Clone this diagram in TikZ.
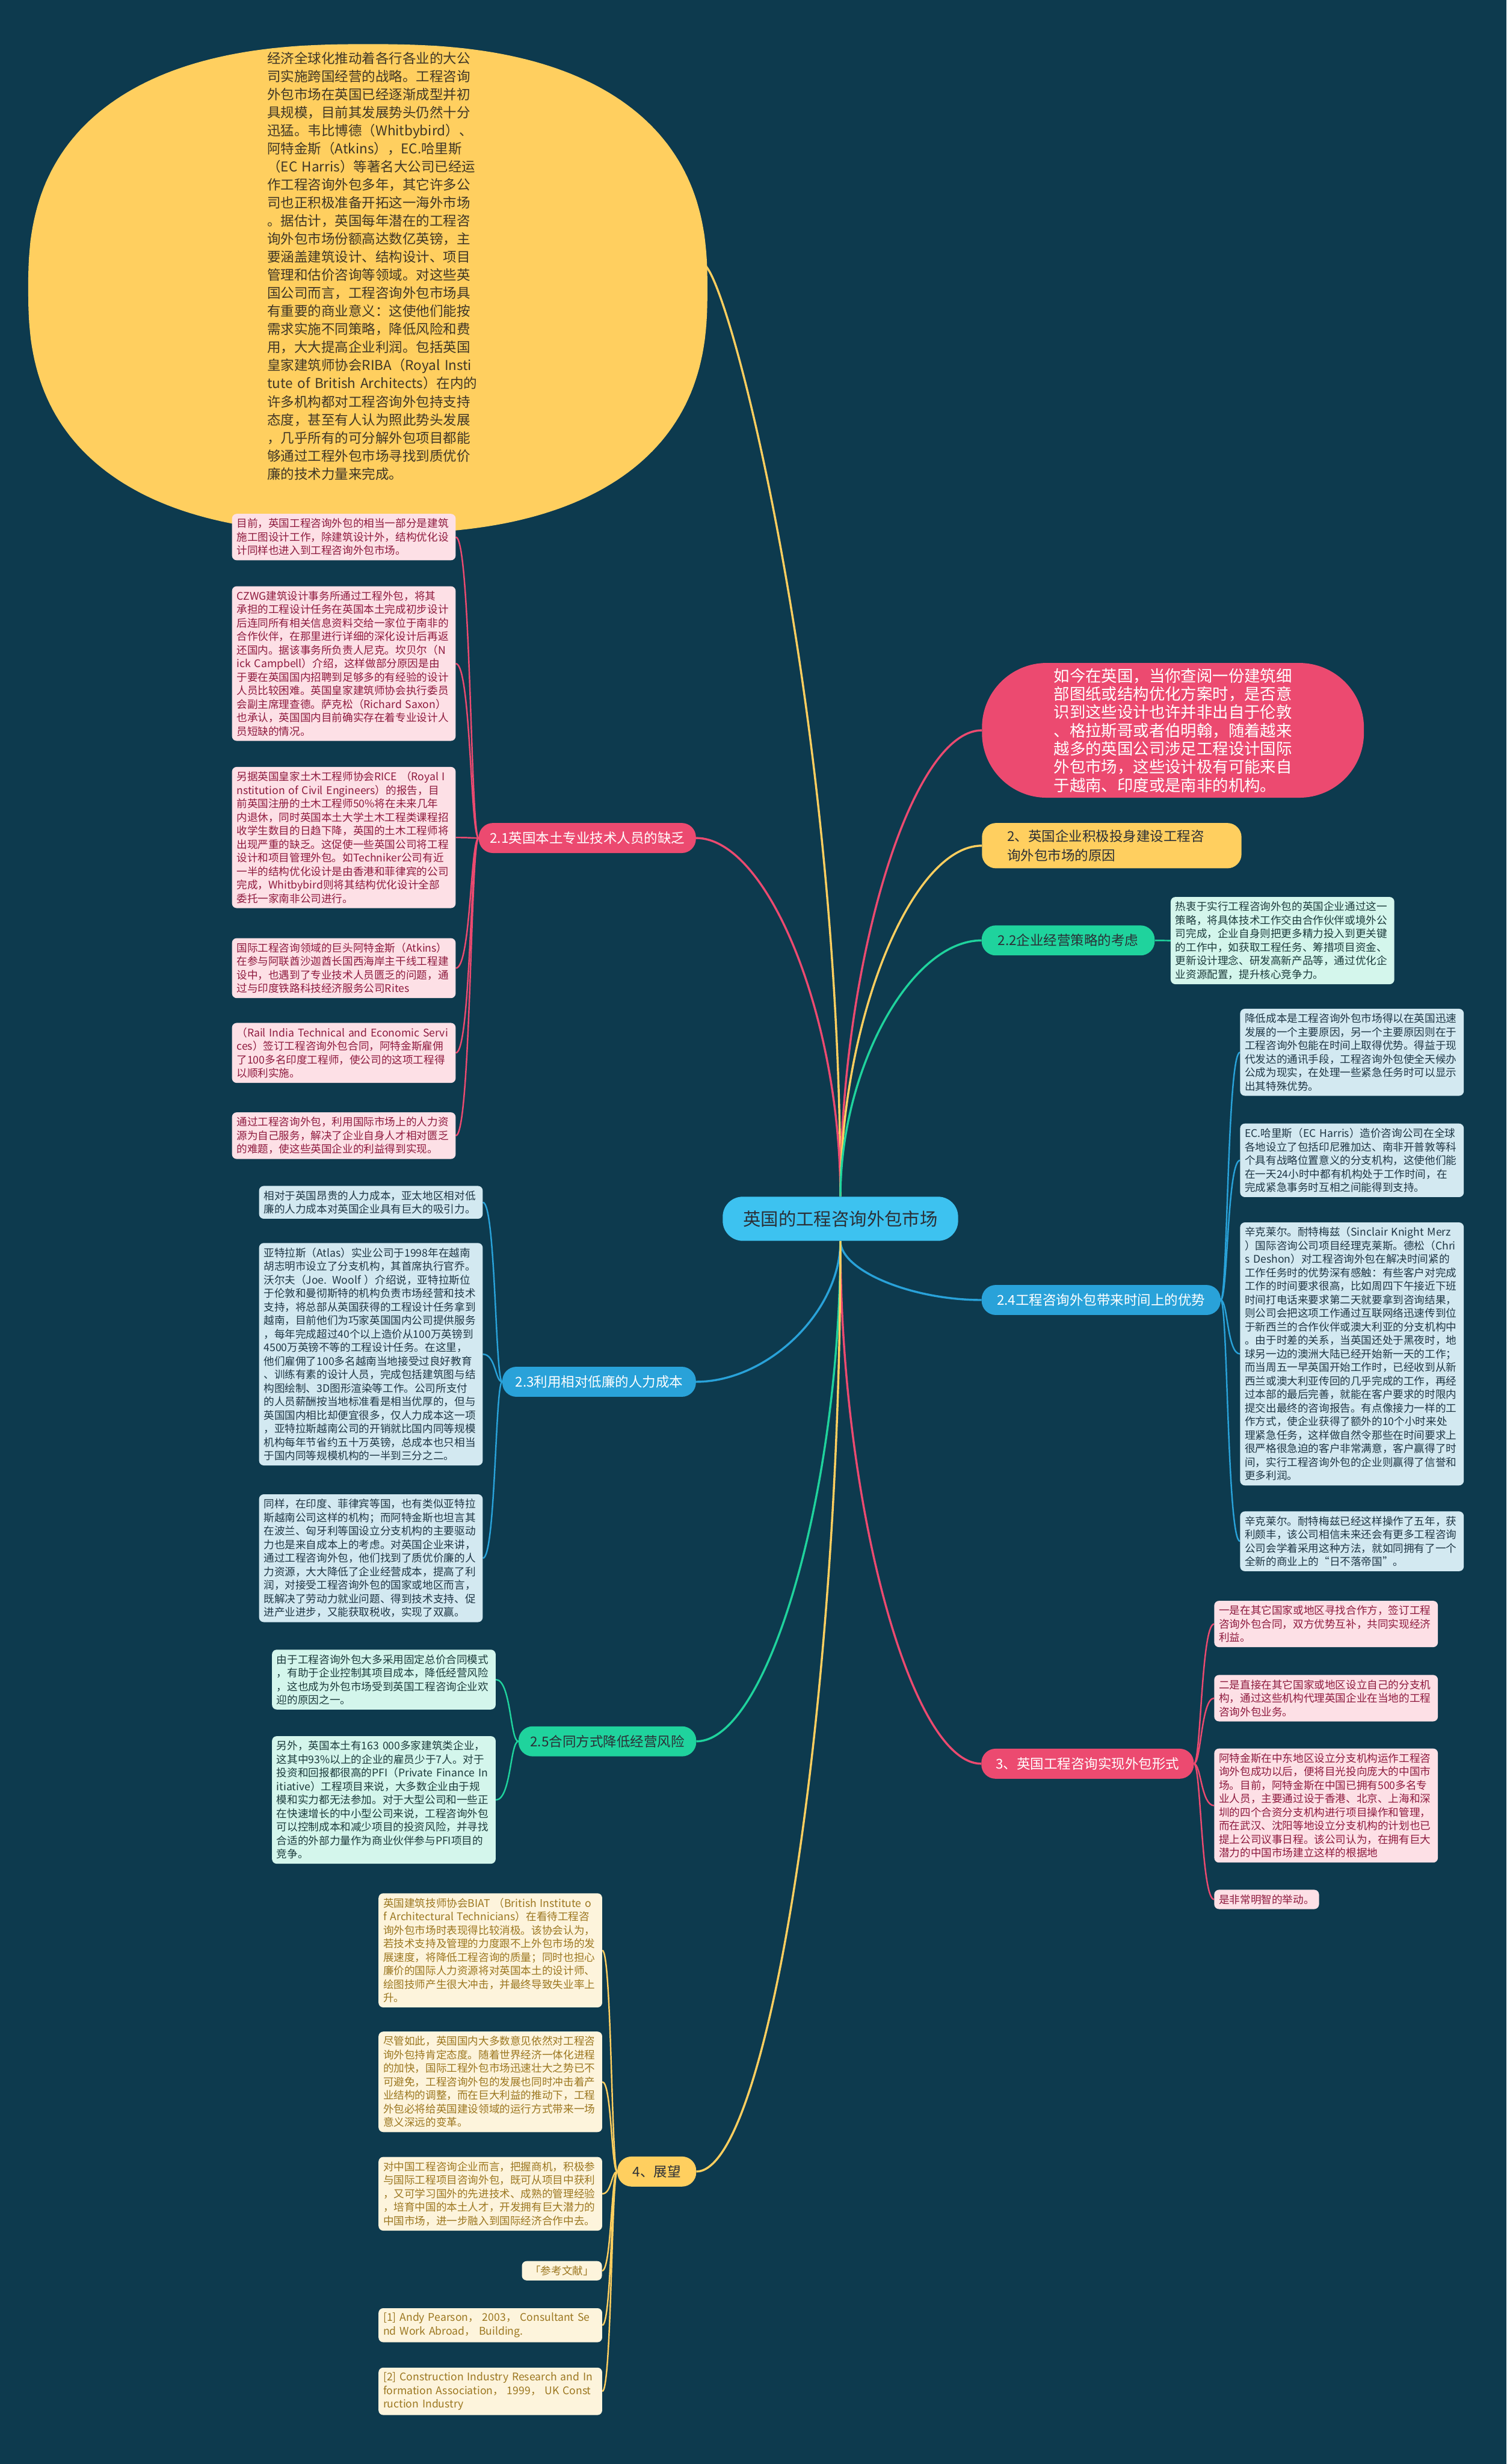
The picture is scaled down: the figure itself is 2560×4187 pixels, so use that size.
\documentclass[tikz,border=0pt]{standalone}
\usepackage{fontspec}
\setmainfont{Noto Sans CJK SC}
\usetikzlibrary{shapes.geometric}
\definecolor{bgc}{HTML}{0D3A4E}
\definecolor{yel}{HTML}{FFCF5F}
\definecolor{redc}{HTML}{EC4A70}
\definecolor{grn}{HTML}{1FD39D}
\definecolor{blu}{HTML}{29A2D9}
\definecolor{cen}{HTML}{3DC2F0}
\definecolor{lpink}{HTML}{FDE0E6}
\definecolor{tpink}{HTML}{8E1A3E}
\definecolor{lblue}{HTML}{D3E9F1}
\definecolor{tblue}{HTML}{1E3645}
\definecolor{lmint}{HTML}{D4F6EC}
\definecolor{tmint}{HTML}{1C3B3C}
\definecolor{lcream}{HTML}{FDF4DC}
\definecolor{tcream}{HTML}{9C7720}
\definecolor{dtext}{HTML}{2B2F36}
\definecolor{elltxt}{HTML}{3F3626}
\pgfdeclarelayer{bgl}
\pgfdeclarelayer{conn}
\pgfsetlayers{bgl,conn,main}
\tikzset{
  leafbase/.style={rounded corners=8pt, align=left, inner xsep=8pt, inner ysep=8pt, font=\fontsize{18}{23}\selectfont},
  leafbox/.style={leafbase, anchor=north west, text width=364pt},
  pinkleaf/.style={fill=lpink, text=tpink},
  blueleaf/.style={fill=lblue, text=tblue},
  mintleaf/.style={fill=lmint, text=tmint},
  creamleaf/.style={fill=lcream, text=tcream},
  brnode/.style={rounded corners=24pt, minimum height=51pt, inner xsep=0pt, inner ysep=0pt, align=center, font=\fontsize{23}{29}\selectfont},
  mainconn/.style={line width=3.5pt},
  leafconn/.style={line width=2.5pt},
}
\begin{document}
\begin{tikzpicture}[x=1pt,y=-1pt]
\begin{pgfonlayer}{bgl}
\fill[bgc] (0,0) rectangle (2560,4187);
\end{pgfonlayer}
\useasboundingbox (0,0) rectangle (2560,4187);

% ---------- centre ----------
\node[fill=cen, text=dtext, rounded corners=34pt, minimum width=400pt, minimum height=75pt, font=\fontsize{30}{36}\selectfont] (root) at (1428,2071) {英国的工程咨询外包市场};

% ---------- top blob (superellipse) ----------
\fill[yel] plot[domain=0.5:360.5, samples=240] ({625+577*sign(cos(\x))*pow(abs(cos(\x)),2/2.5)}, {491+416*sign(sin(\x))*pow(abs(sin(\x)),2/2.5)}) -- cycle;
\coordinate (ellpt) at (1200,453);
\node[anchor=west, text=elltxt, align=left, text width=440pt, inner sep=0pt, font=\fontsize{23}{30.7}\selectfont] (elltext) at (454,452) {经济全球化推动着各行各业的大公\\
司实施跨国经营的战略。工程咨询\\
外包市场在英国已经逐渐成型并初\\
具规模，目前其发展势头仍然十分\\
迅猛。韦比博德（Whitbybird）、\\
阿特金斯（Atkins），EC.哈里斯\\
（EC Harris）等著名大公司已经运\\
作工程咨询外包多年，其它许多公\\
司也正积极准备开拓这一海外市场\\
。据估计，英国每年潜在的工程咨\\
询外包市场份额高达数亿英镑，主\\
要涵盖建筑设计、结构设计、项目\\
管理和估价咨询等领域。对这些英\\
国公司而言，工程咨询外包市场具\\
有重要的商业意义：这使他们能按\\
需求实施不同策略，降低风险和费\\
用，大大提高企业利润。包括英国\\
皇家建筑师协会RIBA（Royal Insti\\
tute of British Architects）在内的\\
许多机构都对工程咨询外包持支持\\
态度，甚至有人认为照此势头发展\\
，几乎所有的可分解外包项目都能\\
够通过工程外包市场寻找到质优价\\
廉的技术力量来完成。};

% ---------- right branches ----------
\node[fill=redc, text=white, rounded corners=110pt, minimum width=649pt, minimum height=229pt, align=left, font=\fontsize{27}{31}\selectfont] (red) at (1993,1241) {如今在英国，当你查阅一份建筑细\\
部图纸或结构优化方案时，是否意\\
识到这些设计也许并非出自于伦敦\\
、格拉斯哥或者伯明翰，随着越来\\
越多的英国公司涉足工程设计国际\\
外包市场，这些设计极有可能来自\\
于越南、印度或是南非的机构。};

\node[brnode, fill=yel, text=dtext, align=left, text width=355pt, inner xsep=43pt, minimum height=77pt, font=\fontsize{23}{32}\selectfont] (b2) at (1889,1437) {2、英国企业积极投身建设工程咨\\询外包市场的原因};

\node[brnode, fill=grn, text=dtext, minimum width=294pt] (b22) at (1815,1598) {2.2企业经营策略的考虑};
\node[leafbox, mintleaf] (l22) at (1989,1524) {热衷于实行工程咨询外包的英国企业通过这一\\
策略，将具体技术工作交由合作伙伴或境外公\\
司完成，企业自身则把更多精力投入到更关键\\
的工作中，如获取工程任务、筹措项目资金、\\
更新设计理念、研发高新产品等，通过优化企\\
业资源配置，提升核心竞争力。};

\node[brnode, fill=blu, text=white, minimum width=406pt] (b24) at (1871,2209) {2.4工程咨询外包带来时间上的优势};
\node[leafbox, blueleaf] (l24a) at (2107,1714) {降低成本是工程咨询外包市场得以在英国迅速\\
发展的一个主要原因，另一个主要原因则在于\\
工程咨询外包能在时间上取得优势。得益于现\\
代发达的通讯手段，工程咨询外包使全天候办\\
公成为现实，在处理一些紧急任务时可以显示\\
出其特殊优势。};
\node[leafbox, blueleaf] (l24b) at (2107,1909) {\mbox{EC.哈里斯（EC Harris）造价咨询公司在全球}\\
各地设立了包括印尼雅加达、南非开普敦等科\\
个具有战略位置意义的分支机构，这使他们能\\
在一天24小时中都有机构处于工作时间，在\\
完成紧急事务时互相之间能得到支持。};
\node[leafbox, blueleaf] (l24c) at (2107,2077) {\mbox{辛克莱尔。耐特梅兹（Sinclair Knight Merz}\\
）国际咨询公司项目经理克莱斯。德松（Chri\\
\mbox{s Deshon）对工程咨询外包在解决时间紧的}\\
工作任务时的优势深有感触：有些客户对完成\\
工作的时间要求很高，比如周四下午接近下班\\
时间打电话来要求第二天就要拿到咨询结果，\\
则公司会把这项工作通过互联网络迅速传到位\\
于新西兰的合作伙伴或澳大利亚的分支机构中\\
。由于时差的关系，当英国还处于黑夜时，地\\
球另一边的澳洲大陆已经开始新一天的工作；\\
而当周五一早英国开始工作时，已经收到从新\\
西兰或澳大利亚传回的几乎完成的工作，再经\\
过本部的最后完善，就能在客户要求的时限内\\
提交出最终的咨询报告。有点像接力一样的工\\
作方式，使企业获得了额外的10个小时来处\\
理紧急任务，这样做自然令那些在时间要求上\\
很严格很急迫的客户非常满意，客户赢得了时\\
间，实行工程咨询外包的企业则赢得了信誉和\\
更多利润。};
\node[leafbox, blueleaf] (l24d) at (2107,2568) {辛克莱尔。耐特梅兹已经这样操作了五年，获\\
利颇丰，该公司相信未来还会有更多工程咨询\\
公司会学着采用这种方法，就如同拥有了一个\\
全新的商业上的“日不落帝国”。};

\node[brnode, fill=redc, text=white, minimum width=361pt] (b3) at (1848,2997) {3、英国工程咨询实现外包形式};
\node[leafbox, pinkleaf] (l3a) at (2063,2720) {一是在其它国家或地区寻找合作方，签订工程\\
咨询外包合同，双方优势互补，共同实现经济\\
利益。};
\node[leafbox, pinkleaf] (l3b) at (2063,2846) {二是直接在其它国家或地区设立自己的分支机\\
构，通过这些机构代理英国企业在当地的工程\\
咨询外包业务。};
\node[leafbox, pinkleaf] (l3c) at (2063,2971) {阿特金斯在中东地区设立分支机构运作工程咨\\
询外包成功以后，便将目光投向庞大的中国市\\
场。目前，阿特金斯在中国已拥有500多名专\\
业人员，主要通过设于香港、北京、上海和深\\
圳的四个合资分支机构进行项目操作和管理，\\
而在武汉、沈阳等地设立分支机构的计划也已\\
提上公司议事日程。该公司认为，在拥有巨大\\
潜力的中国市场建立这样的根据地};
\node[leafbase, pinkleaf, anchor=north west] (l3d) at (2063,3211) {是非常明智的举动。};

% ---------- left branches ----------
\node[brnode, fill=redc, text=white, minimum width=369pt] (b21) at (998,1424) {2.1英国本土专业技术人员的缺乏};
\node[leafbox, pinkleaf] (l21a) at (394,873) {目前，英国工程咨询外包的相当一部分是建筑\\
施工图设计工作，除建筑设计外，结构优化设\\
计同样也进入到工程咨询外包市场。};
\node[leafbox, pinkleaf] (l21b) at (394,996) {CZWG建筑设计事务所通过工程外包，将其\\
承担的工程设计任务在英国本土完成初步设计\\
后连同所有相关信息资料交给一家位于南非的\\
合作伙伴，在那里进行详细的深化设计后再返\\
还国内。据该事务所负责人尼克。坎贝尔（N\\
\mbox{ick Campbell）介绍，这样做部分原因是由}\\
于要在英国国内招聘到足够多的有经验的设计\\
人员比较困难。英国皇家建筑师协会执行委员\\
\mbox{会副主席理查德。萨克松（Richard Saxon）}\\
也承认，英国国内目前确实存在着专业设计人\\
员短缺的情况。};
\node[leafbox, pinkleaf] (l21c) at (394,1303) {\mbox{另据英国皇家土木工程师协会RICE （Royal I}\\
\mbox{nstitution of Civil Engineers）的报告，目}\\
前英国注册的土木工程师50\%将在未来几年\\
内退休，同时英国本土大学土木工程类课程招\\
收学生数目的日趋下降，英国的土木工程师将\\
出现严重的缺乏。这促使一些英国公司将工程\\
设计和项目管理外包。如Techniker公司有近\\
一半的结构优化设计是由香港和菲律宾的公司\\
完成，Whitbybird则将其结构优化设计全部\\
委托一家南非公司进行。};
\node[leafbox, pinkleaf] (l21d) at (394,1594) {国际工程咨询领域的巨头阿特金斯（Atkins）\\
在参与阿联酋沙迦酋长国西海岸主干线工程建\\
设中，也遇到了专业技术人员匮乏的问题，通\\
过与印度铁路科技经济服务公司Rites};
\node[leafbox, pinkleaf] (l21e) at (394,1738) {\mbox{（Rail India Technical and Economic Servi}\\
ces）签订工程咨询外包合同，阿特金斯雇佣\\
了100多名印度工程师，使公司的这项工程得\\
以顺利实施。};
\node[leafbox, pinkleaf] (l21f) at (394,1890) {通过工程咨询外包，利用国际市场上的人力资\\
源为自己服务，解决了企业自身人才相对匮乏\\
的难题，使这些英国企业的利益得到实现。};

\node[brnode, fill=blu, text=white, minimum width=329pt] (b23) at (1018,2348) {2.3利用相对低廉的人力成本};
\node[leafbox, blueleaf] (l23a) at (440,2015) {相对于英国昂贵的人力成本，亚太地区相对低\\
廉的人力成本对英国企业具有巨大的吸引力。};
\node[leafbox, blueleaf] (l23b) at (440,2112) {亚特拉斯（Atlas）实业公司于1998年在越南\\
胡志明市设立了分支机构，其首席执行官乔。\\
\mbox{沃尔夫（Joe. Woolf ）介绍说，亚特拉斯位}\\
于伦敦和曼彻斯特的机构负责市场经营和技术\\
支持，将总部从英国获得的工程设计任务拿到\\
越南，目前他们为巧家英国国内公司提供服务\\
，每年完成超过40个以上造价从100万英镑到\\
4500万英镑不等的工程设计任务。在这里，\\
他们雇佣了100多名越南当地接受过良好教育\\
、训练有素的设计人员，完成包括建筑图与结\\
构图绘制、3D图形渲染等工作。公司所支付\\
的人员薪酬按当地标准看是相当优厚的，但与\\
英国国内相比却便宜很多，仅人力成本这一项\\
，亚特拉斯越南公司的开销就比国内同等规模\\
机构每年节省约五十万英镑，总成本也只相当\\
于国内同等规模机构的一半到三分之二。};
\node[leafbox, blueleaf] (l23c) at (440,2539) {同样，在印度、菲律宾等国，也有类似亚特拉\\
斯越南公司这样的机构；而阿特金斯也坦言其\\
在波兰、匈牙利等国设立分支机构的主要驱动\\
力也是来自成本上的考虑。对英国企业来讲，\\
通过工程咨询外包，他们找到了质优价廉的人\\
力资源，大大降低了企业经营成本，提高了利\\
润，对接受工程咨询外包的国家或地区而言，\\
既解决了劳动力就业问题、得到技术支持、促\\
进产业进步，又能获取税收，实现了双赢。};

\node[brnode, fill=grn, text=dtext, minimum width=302pt] (b25) at (1032,2959) {2.5合同方式降低经营风险};
\node[leafbox, mintleaf] (l25a) at (462,2803) {由于工程咨询外包大多采用固定总价合同模式\\
，有助于企业控制其项目成本，降低经营风险\\
，这也成为外包市场受到英国工程咨询企业欢\\
迎的原因之一。};
\node[leafbox, mintleaf] (l25b) at (462,2950) {\mbox{另外，英国本土有163 000多家建筑类企业，}\\
这其中93\%以上的企业的雇员少于7人。对于\\
\mbox{投资和回报都很高的PFI（Private Finance In}\\
itiative）工程项目来说，大多数企业由于规\\
模和实力都无法参加。对于大型公司和一些正\\
在快速增长的中小型公司来说，工程咨询外包\\
可以控制成本和减少项目的投资风险，并寻找\\
合适的外部力量作为商业伙伴参与PFI项目的\\
竞争。};

\node[brnode, fill=yel, text=dtext, minimum width=134pt] (b4) at (1116,3690) {4、展望};
\node[leafbox, creamleaf] (l4a) at (643,3217) {\mbox{英国建筑技师协会BIAT （British Institute o}\\
\mbox{f Architectural Technicians）在看待工程咨}\\
询外包市场时表现得比较消极。该协会认为，\\
若技术支持及管理的力度跟不上外包市场的发\\
展速度，将降低工程咨询的质量；同时也担心\\
廉价的国际人力资源将对英国本土的设计师、\\
绘图技师产生很大冲击，并最终导致失业率上\\
升。};
\node[leafbox, creamleaf] (l4b) at (643,3452) {尽管如此，英国国内大多数意见依然对工程咨\\
询外包持肯定态度。随着世界经济一体化进程\\
的加快，国际工程外包市场迅速壮大之势已不\\
可避免，工程咨询外包的发展也同时冲击着产\\
业结构的调整，而在巨大利益的推动下，工程\\
外包必将给英国建设领域的运行方式带来一场\\
意义深远的变革。};
\node[leafbox, creamleaf] (l4c) at (643,3665) {对中国工程咨询企业而言，把握商机，积极参\\
与国际工程项目咨询外包，既可从项目中获利\\
，又可学习国外的先进技术、成熟的管理经验\\
，培育中国的本土人才，开发拥有巨大潜力的\\
中国市场，进一步融入到国际经济合作中去。};
\node[leafbase, creamleaf, anchor=north east, inner xsep=14pt] (l4d) at (1023,3842) {「参考文献」};
\node[leafbox, creamleaf] (l4e) at (643,3922) {\mbox{[1] Andy Pearson， 2003， Consultant Se}\\
\mbox{nd Work Abroad， Building.}};
\node[leafbox, creamleaf] (l4f) at (643,4023) {\mbox{[2] Construction Industry Research and In}\\
\mbox{formation Association， 1999， UK Const}\\
ruction Industry};

% ---------- connectors ----------
\begin{pgfonlayer}{conn}
\draw[mainconn, yel] (root.north) .. controls +(0,-800) and +(50,60) .. (ellpt);
\draw[mainconn, redc] (root.north) .. controls +(0,-305) and +(122,0) .. (b21.east);
\draw[mainconn, redc] (root.north) .. controls +(0,-396) and +(-120,0) .. (red.west);
\draw[mainconn, yel] (root.north) .. controls +(0,-298) and +(-120,0) .. (b2.west);
\draw[mainconn, grn] (root.north) .. controls +(0,-218) and +(-120,0) .. (b22.west);
\draw[mainconn, blu] (root.south) .. controls +(0,50) and +(-120,0) .. (b24.west);
\draw[mainconn, redc] (root.south) .. controls +(0,444) and +(-120,0) .. (b3.west);
\draw[mainconn, blu] (root.south) .. controls +(0,120) and +(122,0) .. (b23.east);
\draw[mainconn, grn] (root.south) .. controls +(0,425) and +(122,0) .. (b25.east);
\draw[mainconn, yel] (root.south) .. controls +(0,790) and +(122,0) .. (b4.east);

\draw[leafconn, grn] (b22.east) -- (l22.west);

\foreach \c in {l24a,l24b,l24c,l24d}
  \draw[leafconn, blu] (b24.east) .. controls +(12,0) and +(-22,0) .. (\c.west);
\foreach \c in {l3a,l3b,l3c,l3d}
  \draw[leafconn, redc] (b3.east) .. controls +(12,0) and +(-22,0) .. (\c.west);
\foreach \c in {l21a,l21b,l21c,l21d,l21e,l21f}
  \draw[leafconn, redc] (b21.west) .. controls +(-14,0) and +(26,0) .. (\c.east);
\foreach \c in {l23a,l23b,l23c}
  \draw[leafconn, blu] (b23.west) .. controls +(-12,0) and +(22,0) .. (\c.east);
\foreach \c in {l25a,l25b}
  \draw[leafconn, grn] (b25.west) .. controls +(-14,0) and +(26,0) .. (\c.east);
\foreach \c in {l4a,l4b,l4c,l4d,l4e,l4f}
  \draw[leafconn, yel] (b4.west) .. controls +(-10,0) and +(16,0) .. (\c.east);
\end{pgfonlayer}
\end{tikzpicture}
\end{document}
